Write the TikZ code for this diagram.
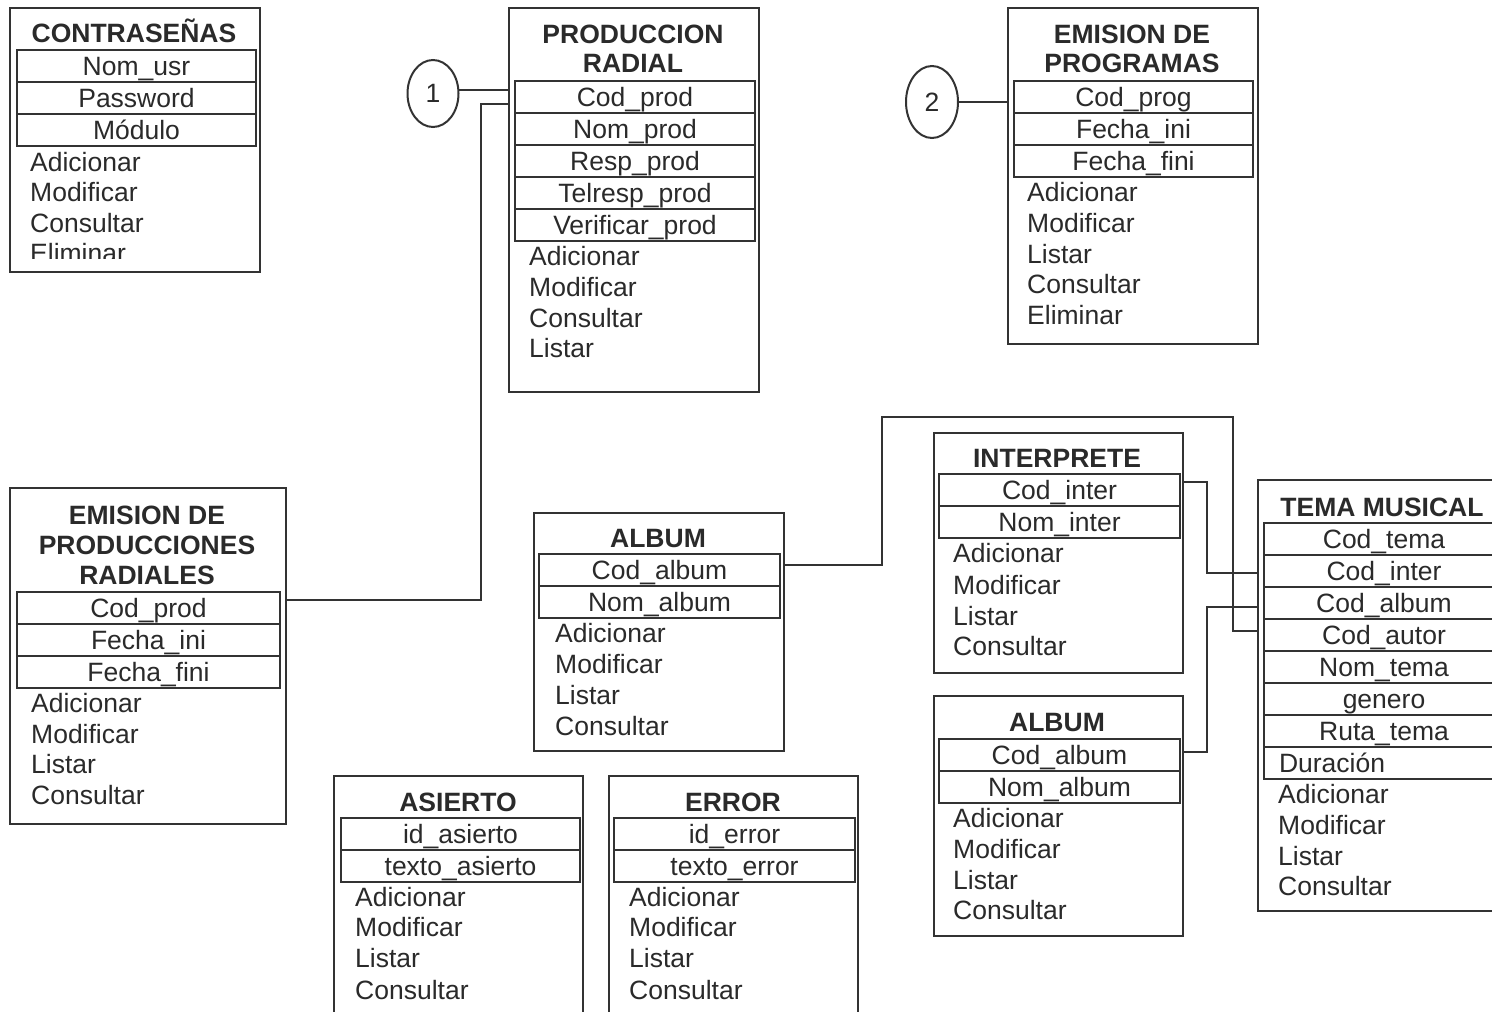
\documentclass[tikz,border=0pt]{standalone}
\usepackage{fontspec}
\setmainfont{Liberation Sans}
\usetikzlibrary{shapes.geometric}
\definecolor{linec}{HTML}{333333}
\definecolor{txtc}{HTML}{2A2A2A}
\begin{document}
\begin{tikzpicture}[x=1pt,y=-1pt,
  font=\fontsize{26.5pt}{31pt}\selectfont, text=txtc,
  ln/.style={draw=linec, line width=1.8pt},
  outer/.style={draw=linec, line width=2pt, rectangle, inner sep=0pt, anchor=north west},
  fld/.style={draw=linec, line width=2pt, rectangle, inner sep=0pt, anchor=north west,
              minimum height=32pt, text height=20pt, text depth=1.5pt},
  meth/.style={anchor=west, inner sep=0pt, text height=20pt, text depth=1.5pt},
  ttl/.style={inner sep=0pt, font=\fontsize{26.5pt}{31pt}\selectfont\bfseries,
              text height=20pt, text depth=1.5pt},
  circ/.style={draw=linec, line width=2pt, ellipse, inner sep=0pt}]

\clip (0,0) rectangle (1492,1012);
\fill[white] (0,0) rectangle (1492,1012);

% ---------------- CONTRASENAS ----------------
\node[outer, minimum width=250pt, minimum height=264pt] (pw) at (9,7) {};
\node[ttl] (pw-t) at (134,33) {CONTRASEÑAS};
\foreach \t/\y [count=\i] in {Nom\_usr/49, Password/81, Módulo/113}
  \node[fld, minimum width=239pt] (pw-f\i) at (16,\y) {\t};
\foreach \t/\y [count=\i] in {Adicionar/162, Modificar/192, Consultar/223}
  \node[meth] (pw-m\i) at (30,\y) {\t};
\begin{scope}
  \clip (9,7) rectangle (259,258);
  \node[meth] (pw-m4) at (30,253) {Eliminar};
\end{scope}

% ---------------- PRODUCCION RADIAL ----------------
\node[outer, minimum width=250pt, minimum height=384pt] (prod) at (508,7) {};
\node[ttl] (prod-t1) at (633,34) {PRODUCCION};
\node[ttl] (prod-t2) at (633,63) {RADIAL};
\foreach \t/\y [count=\i] in {Cod\_prod/80, Nom\_prod/112, Resp\_prod/144, Telresp\_prod/176, Verificar\_prod/208}
  \node[fld, minimum width=240pt] (prod-f\i) at (514,\y) {\t};
\foreach \t/\y [count=\i] in {Adicionar/256, Modificar/287, Consultar/318, Listar/348}
  \node[meth] (prod-m\i) at (529,\y) {\t};

% ---------------- EMISION DE PROGRAMAS ----------------
\node[outer, minimum width=250pt, minimum height=336pt] (prog) at (1007,7) {};
\node[ttl] (prog-t1) at (1132,34) {EMISION DE};
\node[ttl] (prog-t2) at (1132,63) {PROGRAMAS};
\foreach \t/\y [count=\i] in {Cod\_prog/80, Fecha\_ini/112, Fecha\_fini/144}
  \node[fld, minimum width=239pt] (prog-f\i) at (1013,\y) {\t};
\foreach \t/\y [count=\i] in {Adicionar/192, Modificar/223, Listar/254, Consultar/284, Eliminar/315}
  \node[meth] (prog-m\i) at (1027,\y) {\t};

% ---------------- circles ----------------
\node[circ, minimum width=51pt, minimum height=67pt] (c1) at (433,93.5) {1};
\node[circ, minimum width=52pt, minimum height=72pt] (c2) at (932,102) {2};

% ---------------- EMISION DE PRODUCCIONES RADIALES ----------------
\node[outer, minimum width=276pt, minimum height=336pt] (ep) at (9,487) {};
\node[ttl] (ep-t1) at (147,515) {EMISION DE};
\node[ttl] (ep-t2) at (147,545) {PRODUCCIONES};
\node[ttl] (ep-t3) at (147,575) {RADIALES};
\foreach \t/\y [count=\i] in {Cod\_prod/591, Fecha\_ini/623, Fecha\_fini/655}
  \node[fld, minimum width=263pt] (ep-f\i) at (16,\y) {\t};
\foreach \t/\y [count=\i] in {Adicionar/703, Modificar/734, Listar/764, Consultar/795}
  \node[meth] (ep-m\i) at (31,\y) {\t};

% ---------------- ALBUM (centre) ----------------
\node[outer, minimum width=250pt, minimum height=238pt] (alb) at (533,512) {};
\node[ttl] (alb-t) at (658,538) {ALBUM};
\foreach \t/\y [count=\i] in {Cod\_album/553, Nom\_album/585}
  \node[fld, minimum width=241pt] (alb-f\i) at (538,\y) {\t};
\foreach \t/\y [count=\i] in {Adicionar/633, Modificar/664, Listar/695, Consultar/726}
  \node[meth] (alb-m\i) at (555,\y) {\t};

% ---------------- INTERPRETE ----------------
\node[outer, minimum width=249pt, minimum height=240pt] (int) at (933,432) {};
\node[ttl] (int-t) at (1057,458) {INTERPRETE};
\foreach \t/\y [count=\i] in {Cod\_inter/473, Nom\_inter/505}
  \node[fld, minimum width=241pt] (int-f\i) at (938,\y) {\t};
\foreach \t/\y [count=\i] in {Adicionar/553, Modificar/585, Listar/616, Consultar/646}
  \node[meth] (int-m\i) at (953,\y) {\t};

% ---------------- ALBUM (right) ----------------
\node[outer, minimum width=249pt, minimum height=240pt] (alb2) at (933,695) {};
\node[ttl] (alb2-t) at (1057,722) {ALBUM};
\foreach \t/\y [count=\i] in {Cod\_album/738, Nom\_album/770}
  \node[fld, minimum width=241pt] (alb2-f\i) at (938,\y) {\t};
\foreach \t/\y [count=\i] in {Adicionar/818, Modificar/849, Listar/880, Consultar/910}
  \node[meth] (alb2-m\i) at (953,\y) {\t};

% ---------------- TEMA MUSICAL ----------------
\node[outer, minimum width=250pt, minimum height=431pt] (tema) at (1257,479) {};
\node[ttl] (tema-t) at (1382,507) {TEMA MUSICAL};
\foreach \t/\y [count=\i] in {Cod\_tema/522, Cod\_inter/554, Cod\_album/586, Cod\_autor/618, Nom\_tema/650, genero/682, Ruta\_tema/714}
  \node[fld, minimum width=240pt] (tema-f\i) at (1263,\y) {\t};
\node[fld, minimum width=240pt, text width=210pt, align=left] (tema-f8) at (1263,746) {Duración};
\foreach \t/\y [count=\i] in {Adicionar/794, Modificar/825, Listar/856, Consultar/886}
  \node[meth] (tema-m\i) at (1278,\y) {\t};

% ---------------- ASIERTO ----------------
\node[outer, minimum width=249pt, minimum height=260pt] (as) at (333,775) {};
\node[ttl] (as-t) at (458,802) {ASIERTO};
\foreach \t/\y [count=\i] in {id\_asierto/817, texto\_asierto/849}
  \node[fld, minimum width=239pt] (as-f\i) at (340,\y) {\t};
\foreach \t/\y [count=\i] in {Adicionar/897, Modificar/927, Listar/958, Consultar/990}
  \node[meth] (as-m\i) at (355,\y) {\t};

% ---------------- ERROR ----------------
\node[outer, minimum width=249pt, minimum height=260pt] (er) at (608,775) {};
\node[ttl] (er-t) at (733,802) {ERROR};
\foreach \t/\y [count=\i] in {id\_error/817, texto\_error/849}
  \node[fld, minimum width=241pt] (er-f\i) at (613,\y) {\t};
\foreach \t/\y [count=\i] in {Adicionar/897, Modificar/927, Listar/958, Consultar/990}
  \node[meth] (er-m\i) at (629,\y) {\t};

% ---------------- connectors ----------------
\draw[ln] (c1.8) -- (c1.8 -| prod.west);
\draw[ln] (c2.east) -- (c2.east -| prog.west);

\coordinate (k1) at (481,600);
\coordinate (k2) at (481,104);
\draw[ln] (ep.east |- k1) -- (k1) -- (k2) -- (k2 -| prod.west);

\coordinate (a1) at (882,565);
\coordinate (a2) at (882,417);
\coordinate (a3) at (1233,417);
\coordinate (a4) at (1233,631);
\draw[ln] (alb.east |- a1) -- (a1) -- (a2) -- (a3) -- (a4) -- (a4 -| tema.west);

\coordinate (i1) at (1207,482);
\coordinate (i2) at (1207,573);
\draw[ln] (int.east |- i1) -- (i1) -- (i2) -- (i2 -| tema.west);

\coordinate (b1) at (1207,752);
\coordinate (b2) at (1207,607);
\draw[ln] (alb2.east |- b1) -- (b1) -- (b2) -- (b2 -| tema.west);

\end{tikzpicture}
\end{document}
